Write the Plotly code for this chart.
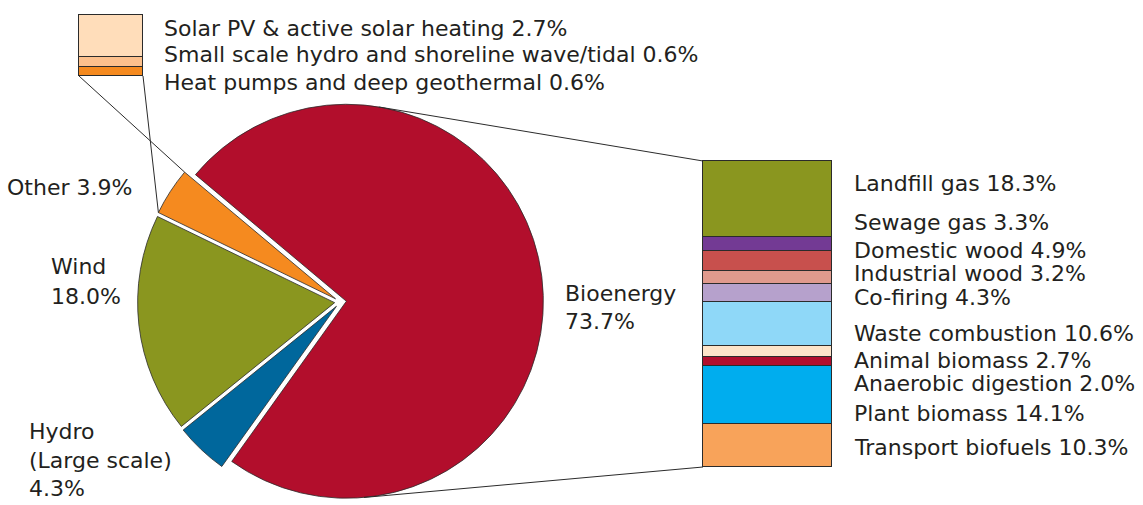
import math
import plotly.graph_objects as go

W, H = 1143, 505

# ---------------- data ----------------
pie_labels = ["Bioenergy", "Hydro (Large scale)", "Wind", "Other"]
pie_values = [73.7, 4.3, 18.0, 3.9]
pie_colors = ["#B20E2C", "#00679C", "#8A961F", "#F58A1F"]
pie_text = ["Bioenergy<br>73.7%", "Hydro<br>(Large scale)<br>4.3%", "Wind<br>18.0%", "Other 3.9%"]

bio_labels = ["Landfill gas", "Sewage gas", "Domestic wood", "Industrial wood", "Co-firing",
              "Waste combustion", "Animal biomass", "Anaerobic digestion", "Plant biomass",
              "Transport biofuels"]
bio_values = [18.3, 3.3, 4.9, 3.2, 4.3, 10.6, 2.7, 2.0, 14.1, 10.3]
bio_colors = ["#8A961F", "#733A94", "#C8504D", "#E09A8D", "#B6A1CC",
              "#8FD8F8", "#FDE4C9", "#B20E2C", "#00ADEE", "#F8A35A"]

other_labels = ["Solar PV & active solar heating", "Small scale hydro and shoreline wave/tidal",
                "Heat pumps and deep geothermal"]
other_values = [2.7, 0.6, 0.6]
other_colors = ["#FFDDBA", "#FCC08C", "#F58A1F"]

# ---------------- layout geometry (pixels) ----------------
PIE_CX, PIE_CY, PIE_R, PULL = 340.5, 302.0, 197.0, 0.03
START_DEG = 140.0            # math angle where the first slice starts (clockwise)
BIO_BAR = (703, 832, 161, 467)   # x0, x1, y0(top), y1(bottom)
OTH_BAR = (79, 143, 15, 76)
PAD = 2
FONT = dict(family="DejaVu Sans", size=22, color="#231F20")
EDGE = "#2b2b2b"

bio_label_x = 852
bio_label_y = [183, 223, 250, 273, 297, 333, 360, 383, 413, 447]
oth_label_x = 162
oth_label_y = [28, 55, 82]
# each pie label line: (x, y center, xanchor)
pie_label_lines = {
    "Bioenergy": [(563, 293, "left"), (563, 321, "left")],
    "Hydro (Large scale)": [(27, 431, "left"), (27, 460, "left"), (27, 488, "left")],
    "Wind": [(49, 266, "left"), (49, 296, "left")],
    "Other": [(134, 187, "right")],
}


def px(x):
    return x / W


def py(y):
    return 1 - y / H


fig = go.Figure()

# ---------------- pie ----------------
half = PIE_R * (1 + PULL)
fig.add_trace(go.Pie(
    labels=pie_labels, values=pie_values, sort=False, direction="clockwise",
    rotation=90 - START_DEG, pull=[PULL] * len(pie_values),
    marker=dict(colors=pie_colors, line=dict(color=EDGE, width=0.8)),
    textinfo="none", hoverinfo="label+percent", showlegend=False,
    domain=dict(x=[px(PIE_CX - half), px(PIE_CX + half)],
                y=[max(0, py(PIE_CY + half)), py(PIE_CY - half)]),
))

# slice geometry derived from the values
total = sum(pie_values)
slices = {}
a = START_DEG
for lab, v in zip(pie_labels, pie_values):
    a_end = a - v / total * 360
    mid = math.radians((a + a_end) / 2)
    cx = PIE_CX + PULL * PIE_R * math.cos(mid)
    cy = PIE_CY - PULL * PIE_R * math.sin(mid)
    slices[lab] = (cx, cy, a, a_end)
    a = a_end

# ---------------- stacked bars ----------------
def add_stack(labels, values, colors, box, xa, ya):
    x0, x1, y0, y1 = box
    tot = sum(values)
    for lab, v, c in list(zip(labels, values, colors))[::-1]:
        fig.add_trace(go.Bar(x=[0], y=[v], width=1, name=lab, marker=dict(color=c, line=dict(color=EDGE, width=1)),
                             xaxis=xa, yaxis=ya, showlegend=False, hoverinfo="name+y"))
    ex = PAD / (x1 - x0)
    ey = PAD / (y1 - y0) * tot
    axn = xa.replace("x", "xaxis")
    ayn = ya.replace("y", "yaxis")
    fig.update_layout(**{
        axn: dict(domain=[px(x0 - PAD), px(x1 + PAD)], range=[-0.5 - ex, 0.5 + ex], visible=False,
                  anchor=ya, fixedrange=True),
        ayn: dict(domain=[py(y1 + PAD), py(y0 - PAD)], range=[-ey, tot + ey], visible=False,
                  anchor=xa, fixedrange=True),
    })


add_stack(bio_labels, bio_values, bio_colors, BIO_BAR, "x", "y")
add_stack(other_labels, other_values, other_colors, OTH_BAR, "x2", "y2")

# ---------------- connector lines ----------------
shapes = []


def line(xa_, ya_, xb, yb):
    shapes.append(dict(type="line", xref="paper", yref="paper", x0=px(xa_), y0=py(ya_),
                       x1=px(xb), y1=py(yb), line=dict(color=EDGE, width=1)))


# Other slice outer corners to small bar
ocx, ocy, oa0, oa1 = slices["Other"]
c_hi = (ocx + PIE_R * math.cos(math.radians(oa0)), ocy - PIE_R * math.sin(math.radians(oa0)))
c_lo = (ocx + PIE_R * math.cos(math.radians(oa1)), ocy - PIE_R * math.sin(math.radians(oa1)))
line(OTH_BAR[0], OTH_BAR[3], c_lo[0], c_lo[1])
line(OTH_BAR[1], OTH_BAR[3], c_hi[0], c_hi[1])

# tangents from the big bar corners to the bioenergy slice
bcx, bcy, _, _ = slices["Bioenergy"]


def tangent(P, pick):
    dx, dy = P[0] - bcx, P[1] - bcy
    d = math.hypot(dx, dy)
    base = math.atan2(dy, dx)
    al = math.acos(PIE_R / d)
    pts = [(bcx + PIE_R * math.cos(base + s * al), bcy + PIE_R * math.sin(base + s * al)) for s in (1, -1)]
    return pick(pts, key=lambda p: p[1])


t_top = tangent((BIO_BAR[0], BIO_BAR[2]), min)
t_bot = tangent((BIO_BAR[0], BIO_BAR[3]), max)
line(BIO_BAR[0], BIO_BAR[2], t_top[0], t_top[1])
line(BIO_BAR[0], BIO_BAR[3], t_bot[0], t_bot[1])

# ---------------- annotations ----------------
ann = []
for lab, v, y in zip(bio_labels, bio_values, bio_label_y):
    ann.append(dict(x=px(bio_label_x), y=py(y), text=f"{lab} {v:.1f}%", xanchor="left", yanchor="middle"))
for lab, v, y in zip(other_labels, other_values, oth_label_y):
    ann.append(dict(x=px(oth_label_x), y=py(y), text=f"{lab} {v:.1f}%", xanchor="left", yanchor="middle"))
for lab, t in zip(pie_labels, pie_text):
    for part, (x, y, xa) in zip(t.split("<br>"), pie_label_lines[lab]):
        ann.append(dict(x=px(x), y=py(y), text=part, xanchor=xa, yanchor="middle", align=xa))
for a_ in ann:
    a_.update(xref="paper", yref="paper", showarrow=False, font=FONT)

fig.update_layout(
    width=W, height=H, margin=dict(l=0, r=0, t=0, b=0),
    paper_bgcolor="white", plot_bgcolor="rgba(0,0,0,0)",
    barmode="stack", bargap=0, shapes=shapes, annotations=ann, showlegend=False,
)

fig.write_html("out.html")
